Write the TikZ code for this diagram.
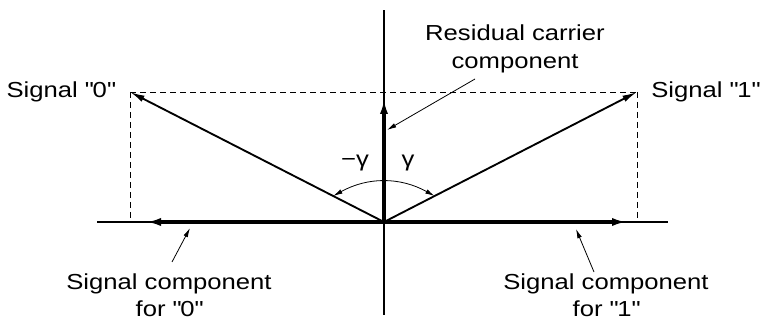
\documentclass[tikz,border=0pt]{standalone}
\usepackage{fontspec}
\setmainfont{Liberation Sans}[FakeStretch=1.18]
\usepackage{tikz}
\usetikzlibrary{arrows.meta, positioning, calc}
\newcommand{\dq}{\XeTeXglyph\XeTeXcharglyph"22\relax}

\begin{document}
\begin{tikzpicture}[
  x=0.75pt, y=0.75pt,
  axis/.style={line width=1pt},
  vec/.style={line width=1.4pt, -{Latex[length=11pt,width=5pt]}},
  comp/.style={line width=2.6pt, -{Latex[length=12pt,width=6pt]}},
  proj/.style={dash pattern=on 4.5pt off 3pt, line width=0.6pt},
  pointer/.style={line width=0.6pt, -{Latex[length=7pt,width=3.5pt]}},
  lbl/.style={font=\fontsize{16.3}{20.5}\selectfont, align=center, inner sep=0pt}
]
\useasboundingbox (0,0) rectangle (772,325);

% Points
\coordinate (O) at (384,103);
\coordinate (S0) at (130,233);
\coordinate (S1) at (637,233);
\coordinate (P0) at (130,103);
\coordinate (P1) at (637,103);
\coordinate (XL) at (97,103);
\coordinate (XR) at (668,103);
\coordinate (YT) at (384,315);
\coordinate (YB) at (384,10);
\coordinate (R) at (384,227);
\coordinate (C0) at (145,103);
\coordinate (C1) at (628,103);

% Axes
\draw[axis] (XL) -- (XR);
\draw[axis] (YB) -- (YT);

% Projections
\draw[proj] (S0) -- (S1);
\draw[proj] (S0) -- (P0);
\draw[proj] (S1) -- (P1);

% Components
\draw[comp] (O) -- (C0);
\draw[comp] (O) -- (C1);
\draw[comp] (O) -- (R);

% Signal vectors
\draw[vec] (O) -- (S0);
\draw[vec] (O) -- (S1);

% Angle
\coordinate (A0) at ($(O)!0.2!(S0)$);
\coordinate (A1) at ($(O)!0.2!(S1)$);
\draw[line width=0.6pt, {Latex[length=7pt,width=3.5pt]}-{Latex[length=7pt,width=3.5pt]}]
  (A0) to[bend left=29] (A1);
\node[lbl] (gm) at (355,162) {−γ};
\node[lbl] (gp) at (408,162) {γ};

% Labels
\node[lbl, anchor=east] (sig0) at (115,233) {Signal \dq0\dq};
\node[lbl, anchor=west] (sig1) at (651,233) {Signal \dq1\dq};
\node[lbl] (res) at (515,276) {Residual carrier\\component};
\node[lbl] (cmp0) at (169,30) {Signal component\\for \dq0\dq};
\node[lbl] (cmp1) at (606,30) {Signal component\\for \dq1\dq};

% Pointers
\coordinate (res0) at (475,246);
\coordinate (res1) at (387,195);
\coordinate (cmp0a) at (172,63);
\coordinate (cmp0b) at (190,97);
\coordinate (cmp1a) at (594,53);
\coordinate (cmp1b) at (576,96);
\draw[pointer] (res0) -- (res1);
\draw[pointer] (cmp0a) -- (cmp0b);
\draw[pointer] (cmp1a) -- (cmp1b);
\end{tikzpicture}
\end{document}
